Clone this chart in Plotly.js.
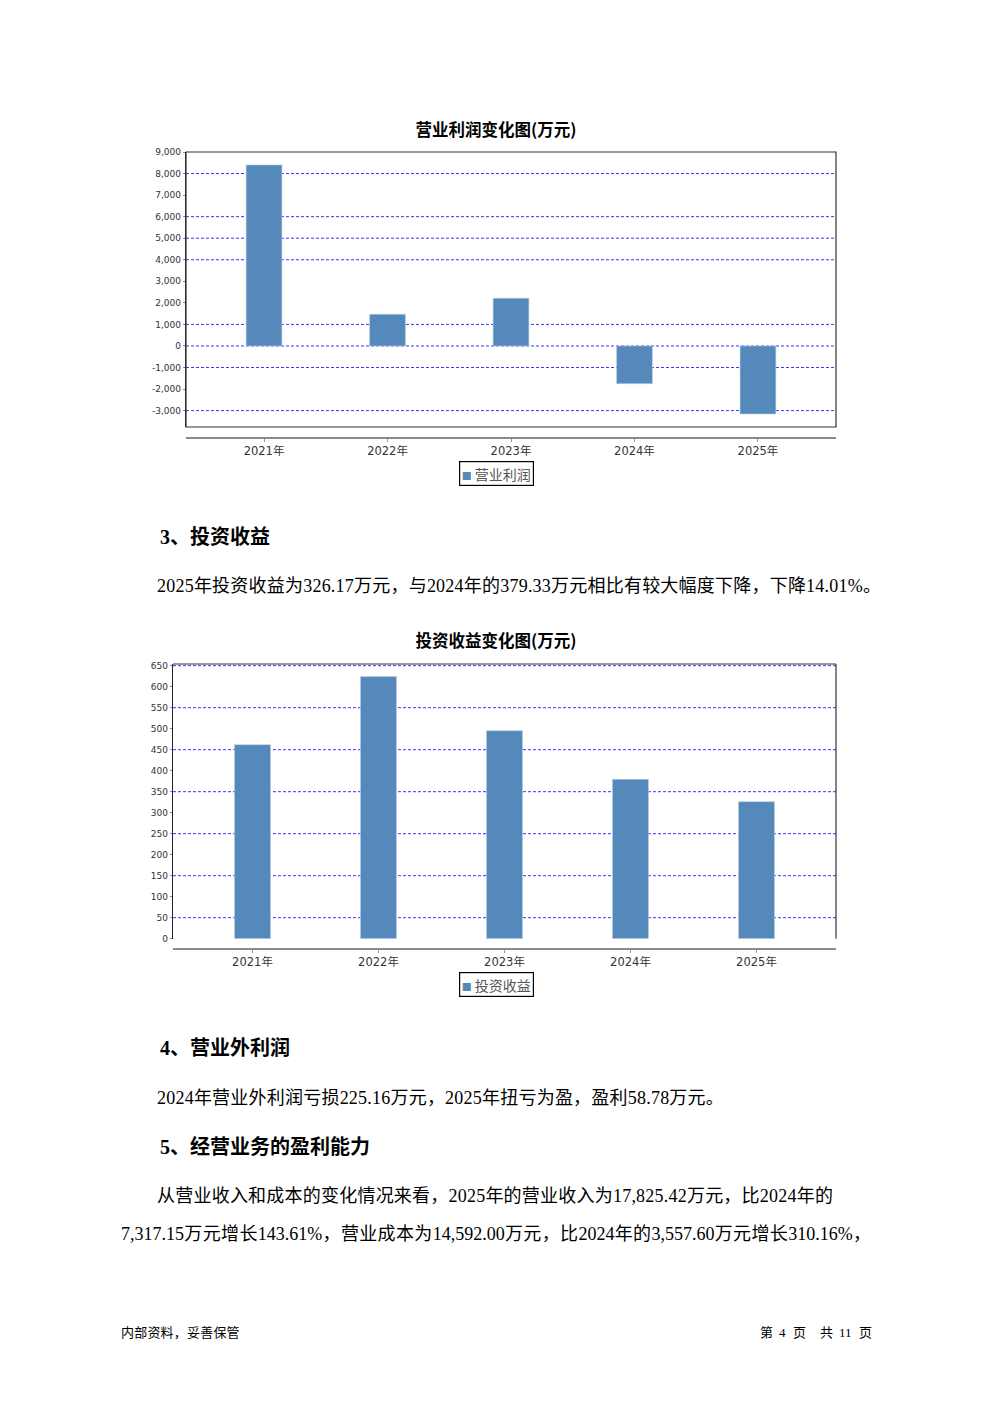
<!DOCTYPE html>
<html>
<head>
<meta charset="utf-8">
<script src="https://cdn.plot.ly/plotly-3.0.1.min.js"></script>
<style>
  html, body { margin:0; padding:0; background:#fff; }
  #page { position:relative; width:992px; height:1403px; background:#fff; overflow:hidden; }
  .t { position:absolute; white-space:nowrap; font-family:"Liberation Serif","Noto Sans CJK SC",serif; color:#000; }
  .h { font-size:20px; font-weight:bold; height:26px; line-height:26px; }
  .p { font-size:18px; height:26px; line-height:26px; letter-spacing:0.22px; }
  .f { font-size:13px; height:18px; line-height:18px; font-family:"Liberation Serif","Noto Sans CJK SC",sans-serif; }
  .chart { position:absolute; left:0; width:992px; }
</style>
</head>
<body>
<div id="page">
  <div id="chart1" class="chart" style="top:100px;height:400px;"></div>
  <div class="t h" style="left:160px;top:524px;">3、投资收益</div>
  <div class="t p" style="left:157px;top:573px;">2025年投资收益为326.17万元，与2024年的379.33万元相比有较大幅度下降，下降14.01%。</div>
  <div id="chart2" class="chart" style="top:600px;height:420px;"></div>
  <div class="t h" style="left:160px;top:1035px;">4、营业外利润</div>
  <div class="t p" style="left:157px;top:1085px;">2024年营业外利润亏损225.16万元，2025年扭亏为盈，盈利58.78万元。</div>
  <div class="t h" style="left:160px;top:1134px;">5、经营业务的盈利能力</div>
  <div class="t p" style="left:157px;top:1183px;">从营业收入和成本的变化情况来看，2025年的营业收入为17,825.42万元，比2024年的</div>
  <div class="t p" style="left:121px;top:1221px;width:750px;text-align:justify;text-align-last:justify;letter-spacing:0;">7,317.15万元增长143.61%，营业成本为14,592.00万元，比2024年的3,557.60万元增长310.16%，</div>
  <div class="t f" style="left:121px;top:1324px;letter-spacing:0.2px;">内部资料，妥善保管</div>
  <div class="t f" style="left:760px;top:1324px;">第</div>
  <div class="t f" style="left:779px;top:1324px;">4</div>
  <div class="t f" style="left:793px;top:1324px;">页</div>
  <div class="t f" style="left:820px;top:1324px;">共</div>
  <div class="t f" style="left:839px;top:1324px;">11</div>
  <div class="t f" style="left:859px;top:1324px;">页</div>
</div>
<script>
// ---- data ----
const years = ['2021年', '2022年', '2023年', '2024年', '2025年'];
const opProfit = [8400, 1470, 2215, -1750, -3155];
const invIncome = [462, 624, 495, 379.33, 326.17];
const opTickVals = [9000, 8000, 7000, 6000, 5000, 4000, 3000, 2000, 1000, 0, -1000, -2000, -3000];
const opTickText = ['9,000', '8,000', '7,000', '6,000', '5,000', '4,000', '3,000', '2,000', '1,000', '0', '-1,000', '-2,000', '-3,000'];
const opGridVals = [8000, 6000, 5000, 4000, 1000, 0, -1000, -3000];
const invTickVals = [650, 600, 550, 500, 450, 400, 350, 300, 250, 200, 150, 100, 50, 0];
const invTickText = ['650', '600', '550', '500', '450', '400', '350', '300', '250', '200', '150', '100', '50', '0'];
const invGridVals = [650, 550, 450, 350, 250, 150, 50];
const opTitle = '营业利润变化图(万元)';
const invTitle = '投资收益变化图(万元)';
const opSeries = '营业利润';
const invSeries = '投资收益';

const BAR = '#5588bb';
const GRID = '#3535ff';
const tickFont = {family: 'DejaVu Sans, Noto Sans CJK SC, sans-serif', size: 9, color: '#333'};
const catFont = {family: 'DejaVu Sans, Noto Sans CJK SC, sans-serif', size: 11.5, color: '#333'};

function gridShapes(vals) {
  return vals.map(v => ({
    type: 'line', xref: 'paper', yref: 'y', x0: 0, x1: 1, y0: v, y1: v,
    line: {color: GRID, width: 1, dash: '3px,2px'}, layer: 'below'
  }));
}

function legendAnn(name, xc, yc) {
  return {
    xref: 'paper', yref: 'paper', x: xc, y: yc, xanchor: 'center', yanchor: 'middle',
    showarrow: false,
    text: "<span style='color:" + BAR + ";font-size:10px'>■</span> " + name,
    font: {family: 'Noto Sans CJK SC, sans-serif', size: 14, color: '#555'},
    bordercolor: '#000', borderwidth: 1.2, borderpad: 1.5, bgcolor: '#fff'
  };
}

function makeChart(id, opts) {
  const trace = {
    type: 'bar', x: years, y: opts.values, name: opts.series, width: opts.barWidth,
    marker: {color: BAR, line: {color: '#b8cfe6', width: 0.6}},
    hoverinfo: 'x+y', showlegend: false
  };
  const shapes = gridShapes(opts.grid).concat(opts.border);
  const layout = {
    width: 992, height: opts.height,
    margin: opts.margin,
    paper_bgcolor: 'rgba(0,0,0,0)', plot_bgcolor: 'rgba(0,0,0,0)',
    showlegend: false,
    title: {
      text: '<b>' + opts.title + '</b>', xref: 'container', x: 0.5, xanchor: 'center',
      yref: 'container', y: opts.titleY, yanchor: 'middle',
      font: {family: 'Noto Sans CJK SC, sans-serif', size: 16.5, color: '#000'}
    },
    xaxis: {
      type: 'category', range: opts.xRange, anchor: 'free', position: 0,
      showline: true, linecolor: '#8a8a8a', linewidth: 1.5,
      ticks: 'outside', ticklen: 3, tickcolor: '#999', tickfont: catFont,
      showgrid: false, zeroline: false, fixedrange: true
    },
    yaxis: {
      domain: opts.yDomain, range: opts.yRange,
      tickmode: 'array', tickvals: opts.tickVals, ticktext: opts.tickText,
      showline: true, linecolor: '#222', linewidth: 1.2,
      ticks: 'outside', ticklen: 2, tickcolor: '#888', tickfont: tickFont,
      showgrid: false, zeroline: false, fixedrange: true
    },
    shapes: shapes,
    annotations: [legendAnn(opts.series, opts.legX, opts.legY)]
  };
  Plotly.newPlot(id, [trace], layout, {displayModeBar: false, staticPlot: true});
}

// chart 1: plot area x 186..836, y 152..427, category axis line at 437
makeChart('chart1', {
  values: opProfit, series: opSeries, title: opTitle,
  height: 400, margin: {l: 186, r: 156, t: 52, b: 63, pad: 0},
  titleY: 1 - 30.5 / 400,
  xRange: [-0.632, 4.632], barWidth: 0.29,
  yDomain: [10 / 285, 1], yRange: [-3760, 9000],
  tickVals: opTickVals, tickText: opTickText, grid: opGridVals,
  border: [
    {type: 'rect', xref: 'paper', yref: 'y domain', x0: 0, x1: 1, y0: 0, y1: 1,
     line: {color: '#333', width: 1.2}, layer: 'above'}
  ],
  legX: (496 - 186) / 650, legY: (437 - 473.5) / 285
});

// chart 2: plot area x 173..836, y 664..939, category axis line at 948
makeChart('chart2', {
  values: invIncome, series: invSeries, title: invTitle,
  height: 420, margin: {l: 173, r: 156, t: 64, b: 72, pad: 0},
  titleY: 1 - 41.5 / 420,
  xRange: [-0.631, 4.631], barWidth: 0.286,
  yDomain: [9.3 / 284, 1], yRange: [0, 654],
  tickVals: invTickVals, tickText: invTickText, grid: invGridVals,
  border: [
    {type: 'line', xref: 'paper', yref: 'y domain', x0: 0, x1: 1, y0: 1, y1: 1,
     line: {color: '#333', width: 1.2}, layer: 'above'},
    {type: 'line', xref: 'paper', yref: 'y domain', x0: 1, x1: 1, y0: 0, y1: 1,
     line: {color: '#333', width: 1.2}, layer: 'above'}
  ],
  legX: (496 - 173) / 663, legY: (948 - 984.5) / 284
});
</script>
</body>
</html>
